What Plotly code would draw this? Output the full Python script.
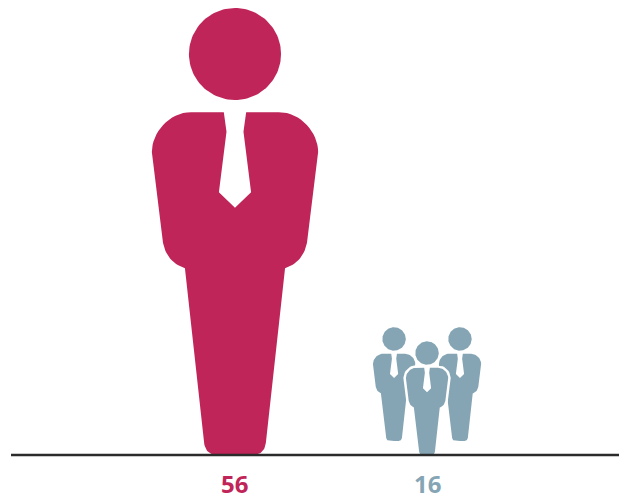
import math
import plotly.graph_objects as go

# Chart values
categories = ["A", "B"]
values = [56, 16]
value_labels = ["56", "16"]
colors = ["#BF2559", "#85A5B5"]
positions = [29.44, 53.5]

# Each group lists its figures as (x offset, y offset, scale), relative to the group's value
groups = [
    [(0, 0, 1)],
    [(-0.258, 0.11, 0.89), (0.258, 0.11, 0.89), (0, 0, 0.89)],
]

# Person glyph, in thousandths of its height; right half only, from tie tip to foot.
# Entries of length 2 are straight segments, entries of length 6 are cubic curves.
HALF_OUTLINE = [
    (0, 553), (36, 588), (19, 723), (25, 767), (98, 767),
    (148, 767, 186, 720, 186, 678),
    (161, 474),
    (154, 441, 134, 425, 112, 418),
    (69, 27),
    (67, 9, 56, 0, 40, 0),
    (0, 0),
]
HEAD_CENTER_Y = 897
HEAD_RADIUS = 103


def flatten(outline):
    pts = []
    for seg in outline:
        if len(seg) == 2:
            pts.append(seg)
        else:
            x0, y0 = pts[-1]
            x1, y1, x2, y2, x3, y3 = seg
            for i in range(1, 17):
                t = i / 16
                s = 1 - t
                pts.append((
                    s**3 * x0 + 3 * s**2 * t * x1 + 3 * s * t**2 * x2 + t**3 * x3,
                    s**3 * y0 + 3 * s**2 * t * y1 + 3 * s * t**2 * y2 + t**3 * y3,
                ))
    return pts


half = flatten(HALF_OUTLINE)
body = half + [(-x, y) for x, y in reversed(half[:-1])]
# Same outline with the tie filled in, used for the white halo
solid = [p for p in half[3:]] + [(-x, y) for x, y in reversed(half[3:-1])]
head = [
    (HEAD_RADIUS * math.cos(a * math.pi / 60), HEAD_CENTER_Y + HEAD_RADIUS * math.sin(a * math.pi / 60))
    for a in range(121)
]


def place(points, cx, base, size):
    xs = [cx + x * size / 1000 for x, _ in points]
    ys = [base + y * size / 1000 for _, y in points]
    return xs, ys


fig = go.Figure()


def add_shape(points, cx, base, size, fill, line=None):
    xs, ys = place(points, cx, base, size)
    fig.add_trace(go.Scatter(
        x=xs, y=ys, mode="lines", fill="toself", fillcolor=fill,
        line=dict(color=line or fill, width=5 if line else 0),
        hoverinfo="skip", showlegend=False,
    ))


for pos, value, color, members in zip(positions, values, colors, groups):
    for dx, dy, scale in members:
        cx = pos + dx * value
        base = dy * value
        size = scale * value
        if len(members) > 1 and dx == 0:
            add_shape(solid, cx, base, size, "#FFFFFF", "#FFFFFF")
            add_shape(head, cx, base, size, "#FFFFFF", "#FFFFFF")
        add_shape(body, cx, base, size, color)
        add_shape(head, cx, base, size, color)

# Baseline
fig.add_trace(go.Scatter(
    x=[1.38, 77.55], y=[0, 0], mode="lines",
    line=dict(color="#2B2B2B", width=2.5),
    hoverinfo="skip", showlegend=False,
))

# Value labels under the baseline
for pos, label, color in zip(positions, value_labels, colors):
    fig.add_annotation(
        x=pos, y=-3.63, text=f"<b>{label}</b>", showarrow=False,
        font=dict(family="Noto Sans", size=24, color=color),
    )

fig.update_layout(
    width=619, height=498,
    margin=dict(l=0, r=0, t=0, b=0),
    paper_bgcolor="#FFFFFF", plot_bgcolor="#FFFFFF",
    xaxis=dict(range=[0, 77.55], visible=False, fixedrange=True),
    yaxis=dict(range=[-5.387, 57], visible=False, fixedrange=True),
)

fig.write_html("out.html", config=dict(displayModeBar=False))
